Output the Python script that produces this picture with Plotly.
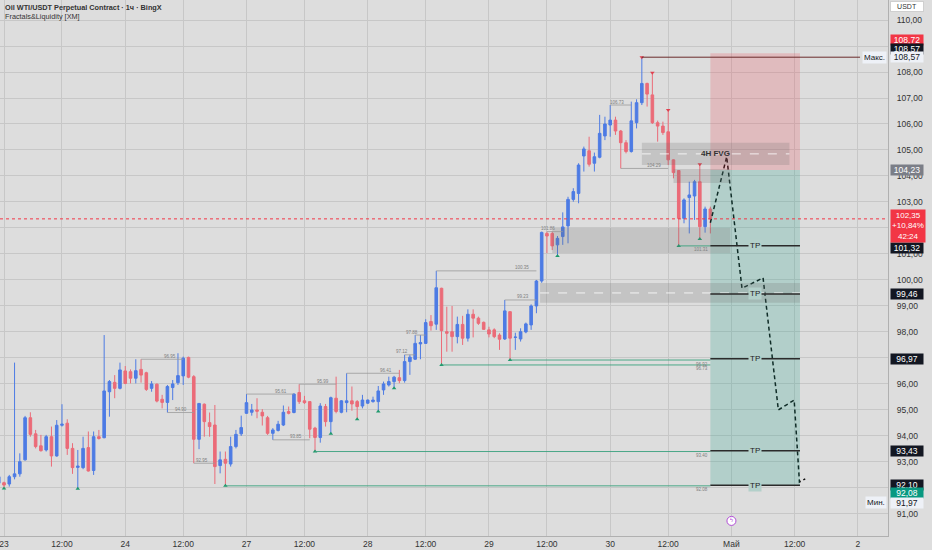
import plotly.graph_objects as go

# 1h bars (weekend removed), index 0 = 23 Apr 00:00
bar = list(range(-1, 135))
opens = [92.18, 92.20, 92.15, 92.43, 92.54, 93.08, 94.70, 94.08, 93.62, 93.46,
         93.97, 93.23, 94.41, 94.49, 93.52, 92.79, 92.78, 93.55, 92.67, 93.97,
         93.93, 95.70, 96.06, 95.83, 96.50, 96.47, 96.22, 96.56, 96.43, 95.83,
         95.99, 95.41, 95.29, 95.86, 96.05, 96.31, 97.02, 96.28, 93.87, 95.22,
         94.51, 94.42, 92.86, 93.10, 92.92, 93.59, 94.08, 94.87, 94.91, 95.00,
         94.91, 94.70, 94.10, 94.21, 94.42, 94.94, 94.90, 95.67, 95.35, 95.32,
         94.30, 93.94, 95.13, 94.55, 95.45, 94.91, 95.28, 95.35, 95.32, 95.15,
         95.26, 95.32, 95.32, 95.77, 95.96, 96.09, 96.24, 96.13, 96.86, 96.95,
         97.54, 97.56, 98.40, 98.30, 99.68, 98.01, 98.01, 97.82, 98.29, 97.76,
         98.68, 98.53, 98.37, 98.08, 98.08, 97.88, 97.73, 98.78, 97.79, 97.73,
         98.00, 98.27, 99.00, 99.96, 101.79, 101.79, 101.35, 101.67, 102.08, 103.10,
         103.33, 104.77, 104.97, 104.49, 104.72, 105.54, 105.96, 106.15, 105.73, 105.28,
         104.94, 106.05, 106.82, 107.56, 107.12, 106.05, 105.92, 105.70, 104.62, 104.21,
         102.37, 103.17, 103.23, 103.78, 102.05, 102.73]
highs = [92.50, 92.24, 92.50, 96.82, 93.33, 94.77, 94.91, 94.23, 94.04, 94.04,
         94.36, 94.61, 95.22, 94.64, 93.72, 93.46, 93.97, 94.17, 94.17, 94.23,
         97.88, 96.15, 96.34, 96.82, 96.69, 96.56, 96.95, 96.95, 96.47, 96.11,
         96.02, 95.58, 95.96, 96.15, 97.18, 97.05, 97.05, 96.34, 95.25, 95.25,
         94.90, 95.19, 93.40, 93.40, 93.97, 94.23, 94.78, 95.61, 95.23, 95.45,
         95.03, 94.77, 94.30, 94.58, 95.17, 95.13, 95.64, 95.99, 95.54, 95.32,
         94.35, 95.26, 95.23, 95.51, 96.28, 95.38, 96.41, 95.90, 95.38, 95.58,
         95.40, 95.51, 95.92, 96.09, 96.28, 96.31, 96.54, 97.12, 97.12, 97.88,
         97.88, 98.49, 98.65, 100.35, 99.70, 98.97, 99.00, 98.59, 98.62, 98.87,
         98.87, 98.59, 98.40, 98.20, 98.14, 97.95, 99.23, 98.78, 97.97, 98.14,
         98.36, 99.06, 100.00, 101.86, 101.86, 101.86, 101.69, 102.60, 103.20, 103.53,
         104.49, 105.13, 105.51, 104.90, 106.35, 106.28, 106.73, 106.28, 105.77, 105.38,
         106.86, 106.95, 108.57, 107.59, 107.97, 106.13, 106.09, 106.54, 104.64, 104.21,
         103.14, 103.78, 103.85, 104.45, 102.82, 102.82]
lows = [92.10, 91.98, 92.05, 92.33, 92.43, 93.05, 93.97, 93.52, 93.40, 93.40,
        92.82, 93.20, 94.36, 93.27, 92.54, 91.97, 92.72, 92.63, 92.50, 93.86,
        93.91, 94.74, 95.45, 95.79, 95.99, 96.02, 96.02, 96.05, 95.73, 95.70,
        95.29, 95.06, 94.90, 95.38, 95.96, 95.96, 96.22, 92.95, 93.49, 93.97,
        93.97, 92.15, 92.56, 92.08, 92.82, 93.52, 94.00, 94.85, 94.78, 94.68,
        94.40, 94.04, 93.85, 94.17, 94.38, 94.83, 94.87, 95.23, 95.23, 93.91,
        93.40, 93.74, 94.36, 94.08, 94.87, 94.87, 94.91, 94.97, 94.64, 95.06,
        95.23, 95.28, 94.94, 95.58, 95.90, 95.83, 96.03, 96.05, 96.35, 96.92,
        96.95, 97.54, 98.05, 98.08, 96.73, 97.24, 97.24, 97.56, 97.50, 97.63,
        97.79, 98.27, 98.08, 97.79, 97.76, 97.31, 97.69, 96.92, 97.31, 97.63,
        97.95, 98.08, 98.72, 99.89, 101.03, 101.15, 100.92, 101.35, 101.41, 103.01,
        102.95, 104.17, 104.36, 104.17, 104.68, 105.38, 105.51, 105.58, 104.29, 104.87,
        104.90, 105.83, 106.73, 106.67, 106.00, 105.32, 105.58, 104.42, 103.91, 101.31,
        102.18, 101.79, 102.31, 101.58, 101.82, 101.79]
closes = [92.43, 92.11, 92.43, 92.54, 93.01, 94.70, 94.06, 93.59, 93.43, 93.97,
          93.23, 94.41, 94.45, 93.52, 92.78, 92.84, 93.52, 92.65, 93.97, 93.90,
          95.73, 96.09, 95.83, 96.54, 96.02, 96.22, 96.51, 96.34, 95.79, 96.00,
          95.34, 95.29, 95.90, 96.00, 96.32, 96.99, 96.26, 93.87, 95.25, 94.55,
          94.36, 92.82, 93.08, 92.95, 93.59, 94.06, 94.32, 95.28, 95.00, 94.95,
          94.77, 94.10, 94.23, 94.45, 94.91, 94.87, 95.61, 95.32, 95.28, 94.26,
          93.94, 95.15, 94.55, 95.47, 94.94, 95.35, 95.35, 95.23, 95.13, 95.38,
          95.38, 95.38, 95.73, 96.00, 96.09, 96.26, 96.13, 96.86, 97.03, 97.56,
          97.59, 98.36, 98.24, 99.70, 98.05, 97.95, 97.82, 98.29, 97.76, 98.68,
          98.53, 98.33, 98.10, 97.92, 97.82, 97.72, 98.81, 97.76, 97.80, 98.01,
          98.31, 99.00, 99.96, 101.83, 101.69, 101.31, 101.60, 102.04, 103.10, 103.40,
          104.42, 105.04, 104.45, 104.74, 105.64, 106.00, 106.15, 105.73, 105.28, 104.94,
          106.12, 106.82, 107.56, 107.15, 106.05, 105.92, 105.67, 104.62, 104.13, 102.37,
          103.08, 103.27, 103.78, 102.05, 102.73, 102.35]

tick_pos = [0, 11, 23, 34, 46, 57, 69, 80, 92, 103, 115, 126, 138, 150, 162]
tick_text = ["23", "12:00", "24", "12:00", "27", "12:00", "28", "12:00",
             "29", "12:00", "30", "12:00", "Май", "12:00", "2"]

# price scale: levels 91..110, the ones hidden under tags get no label
price_ticks = list(range(91, 111))
hidden_ticks = [92, 97, 102, 109]

# fractal markers (bar indices)
fractal_lows = [0, 14, 42, 59, 62, 67, 71, 74, 83, 96, 105, 128, 132]
fractal_highs = [121, 123, 126, 132]

# swept / open liquidity levels: start bar, end bar, price
gray_start = [26, 31, 36, 46, 51, 56, 65, 76, 78, 82, 95, 103, 115, 117]
gray_end = [34, 36, 40, 55, 58, 63, 75, 78, 80, 101, 101, 106, 119, 126]
gray_price = [96.95, 94.90, 92.95, 95.61, 93.85, 95.99, 96.41, 97.12, 97.88,
              100.35, 99.23, 101.86, 106.73, 104.29]
green_start = [42, 59, 83, 96, 128]
green_price = [92.08, 93.40, 96.73, 96.92, 101.31]
level_end = 134

# FVG zones: x0, x1, bottom, top, dashed middle
fvg_x0 = [121, 127, 104, 101.7]
fvg_x1 = [149, 137.8, 137.8, 151]
fvg_lo = [104.42, 103.73, 101.04, 99.12]
fvg_hi = [105.28, 104.27, 102.00, 99.88]
fvg_mid = [104.85, None, None, 99.50]

# short position tool
pos_x0, pos_x1 = 134, 151
stop_price, entry_price, target_price = 108.72, 104.23, 92.08
tp_levels = [101.32, 99.46, 96.97, 93.43, 92.10]
last_price = 102.35
high_max, low_min = 108.57, 91.97

# projected path
proj_x = [134, 137.1, 140, 144, 146.9, 149.9, 150.9, 152]
proj_y = [102.2, 104.74, 99.68, 100.08, 95.00, 95.38, 92.23, 92.35]

BLUE = "#4d7be4"
RED = "#eb6b78"
BG = "#dddddd"
GRID = "#c7c7c7"
FONT = "Liberation Sans"


def fmt(v):
    return f"{v:.2f}".replace(".", ",")


fig = go.Figure()

fig.add_trace(go.Candlestick(
    x=bar, open=opens, high=highs, low=lows, close=closes,
    increasing=dict(line=dict(color=BLUE, width=1), fillcolor=BLUE),
    decreasing=dict(line=dict(color=RED, width=1), fillcolor=RED),
    whiskerwidth=0, showlegend=False, hoverinfo="skip",
))

fig.add_trace(go.Scatter(
    x=fractal_lows, y=[lows[i + 1] for i in fractal_lows], mode="markers",
    marker=dict(symbol="triangle-up", size=4, color="#1f9a6c"),
    showlegend=False, hoverinfo="skip",
))
fig.add_trace(go.Scatter(
    x=fractal_highs, y=[highs[i + 1] for i in fractal_highs], mode="markers",
    marker=dict(symbol="triangle-down", size=4, color="#e0404f"),
    showlegend=False, hoverinfo="skip",
))

shapes = []
annotations = []

# position tool boxes
shapes.append(dict(type="rect", xref="x", yref="y", x0=pos_x0, x1=pos_x1,
                   y0=entry_price, y1=stop_price, line=dict(width=0),
                   fillcolor="rgba(242,54,69,0.2)"))
shapes.append(dict(type="rect", xref="x", yref="y", x0=pos_x0, x1=pos_x1,
                   y0=target_price, y1=entry_price, line=dict(width=0),
                   fillcolor="rgba(8,153,129,0.2)"))

# FVG zones
for x0, x1, lo, hi, mid in zip(fvg_x0, fvg_x1, fvg_lo, fvg_hi, fvg_mid):
    shapes.append(dict(type="rect", xref="x", yref="y", x0=x0, x1=x1, y0=lo, y1=hi,
                       line=dict(width=0), fillcolor="rgba(110,110,110,0.22)"))
    if mid is not None:
        shapes.append(dict(type="line", xref="x", yref="y", x0=x0, x1=x1, y0=mid, y1=mid,
                           line=dict(color="rgba(255,255,255,0.8)", width=1, dash="dash")))
annotations.append(dict(x=135, y=fvg_mid[0], xref="x", yref="y", text="<b>4H FVG</b>",
                        showarrow=False, font=dict(family=FONT, size=8, color="#333")))

# liquidity levels
for x0, x1, p in zip(gray_start, gray_end, gray_price):
    shapes.append(dict(type="line", xref="x", yref="y", x0=x0, x1=x1, y0=p, y1=p,
                       line=dict(color="#9a9a9a", width=0.8)))
    annotations.append(dict(x=x1 - 1, y=p, xref="x", yref="y", text=f"{p:.2f}",
                            showarrow=False, yshift=3, xanchor="right",
                            font=dict(family=FONT, size=4.5, color="#808080")))
for x0, p in zip(green_start, green_price):
    shapes.append(dict(type="line", xref="x", yref="y", x0=x0, x1=level_end, y0=p, y1=p,
                       line=dict(color="#3aa27e", width=0.9)))
    annotations.append(dict(x=level_end, y=p, xref="x", yref="y", text=f"{p:.2f}",
                            showarrow=False, yshift=-4, xanchor="right",
                            font=dict(family=FONT, size=4.5, color="#808080")))

# session high line
shapes.append(dict(type="line", xref="x", yref="y", x0=fractal_highs[0], x1=162.4,
                   y0=high_max, y1=high_max, line=dict(color="#6b2b2b", width=1)))

# TP lines
for tp in tp_levels:
    shapes.append(dict(type="line", xref="x", yref="y", x0=pos_x0, x1=pos_x1, y0=tp, y1=tp,
                       line=dict(color="#2b2b2b", width=1.5)))
    annotations.append(dict(x=(pos_x0 + pos_x1) / 2, y=tp, xref="x", yref="y", text="TP",
                            showarrow=False, bgcolor="#b3d0ca", borderpad=1,
                            font=dict(family=FONT, size=8, color="#222")))

# current price line
shapes.append(dict(type="line", xref="paper", yref="y", x0=0, x1=1,
                   y0=last_price, y1=last_price,
                   line=dict(color="#f23645", width=1, dash="dot")))

fig.add_trace(go.Scatter(
    x=proj_x, y=proj_y, mode="lines",
    line=dict(color="#111", width=1.5, dash="4px,3px"),
    showlegend=False, hoverinfo="skip",
))

# event marker on the time scale
fig.add_trace(go.Scatter(
    x=[138], y=[90.73], mode="markers+text", text=["ϟ"], textposition="middle center",
    textfont=dict(family="DejaVu Sans", size=6, color="#b14cd6"),
    marker=dict(symbol="circle", size=9, color="white", line=dict(color="#b14cd6", width=1)),
    showlegend=False, hoverinfo="skip", cliponaxis=False,
))

# price scale tags: price, background, text colour, vertical shift (px)
tag_price = [stop_price, high_max, high_max, entry_price, tp_levels[0], tp_levels[1],
             tp_levels[2], tp_levels[3], tp_levels[4], target_price, low_min]
tag_bg = ["#f23645", "#131722", "#eef1f7", "#7b7e87", "#131722", "#131722",
          "#131722", "#131722", "#131722", "#089981", "#eef1f7"]
tag_fg = ["white", "white", "#131722", "white", "white", "white",
          "white", "white", "white", "white", "#131722"]
tag_shift = [13, 8, 0, 0, -2, 0, 0, 0, 0, -7, -14]

for p, bg, fg, sh in zip(tag_price, tag_bg, tag_fg, tag_shift):
    annotations.append(dict(x=1, y=p, xref="paper", yref="y", text=fmt(p), showarrow=False,
                            xanchor="left", xshift=2, yshift=sh, bgcolor=bg, width=32,
                            borderpad=0, font=dict(family=FONT, size=8.5, color=fg)))

annotations.append(dict(x=1, y=last_price, xref="paper", yref="y",
                        text=f"{fmt(last_price)}<br>+10,84%<br>42:24", showarrow=False,
                        xanchor="left", xshift=2, yshift=-7, bgcolor="#f23645", width=32,
                        borderpad=1, align="center",
                        font=dict(family=FONT, size=8, color="white")))
annotations.append(dict(x=1, y=high_max, xref="paper", yref="y", text="Макс.",
                        showarrow=False, xanchor="right", xshift=-1, bgcolor="#eef1f7",
                        font=dict(family=FONT, size=8, color="#131722")))
annotations.append(dict(x=1, y=low_min, xref="paper", yref="y", text="Мин.",
                        showarrow=False, xanchor="right", xshift=-1, yshift=-14,
                        bgcolor="#eef1f7", font=dict(family=FONT, size=8, color="#131722")))
annotations.append(dict(x=1, y=1, xref="paper", yref="paper", text="USDT", showarrow=False,
                        xanchor="left", yanchor="top", xshift=2, yshift=-1, bgcolor="white",
                        bordercolor="#cfcfcf", borderwidth=1, width=30,
                        font=dict(family=FONT, size=7, color="#333")))

# title
annotations.append(dict(x=0, y=1, xref="paper", yref="paper", xanchor="left", yanchor="top",
                        xshift=3, yshift=-1, showarrow=False, align="left",
                        text="<b>Oil WTI/USDT Perpetual Contract · 1ч · BingX</b><br>Fractals&Liquidity [XM]",
                        font=dict(family=FONT, size=7.3, color="#333")))

fig.update_layout(
    width=932, height=550,
    margin=dict(l=0, r=44, t=0, b=14),
    paper_bgcolor=BG, plot_bgcolor=BG,
    separators=", ",
    shapes=shapes, annotations=annotations,
    font=dict(family=FONT, size=8.5, color="#333"),
    xaxis=dict(range=[-0.76, 167.7], tickmode="array", tickvals=tick_pos, ticktext=tick_text,
               showgrid=True, gridcolor=GRID, zeroline=False, rangeslider=dict(visible=False),
               showline=True, linecolor="#b0b0b0", ticks="", tickfont=dict(size=8.5),
               ticklabeloverflow="allow"),
    yaxis=dict(range=[90.15, 110.77], side="right", tickmode="array", tickvals=price_ticks,
               ticktext=["" if t in hidden_ticks else fmt(t) for t in price_ticks],
               showgrid=True, gridcolor=GRID, zeroline=False, showline=True,
               linecolor="#b0b0b0", ticks="", ticklabelstandoff=6, tickfont=dict(size=8.5)),
    hovermode=False,
)

fig.write_html("out.html", config={"displayModeBar": False},
               post_script="document.body.style.margin='0';")
